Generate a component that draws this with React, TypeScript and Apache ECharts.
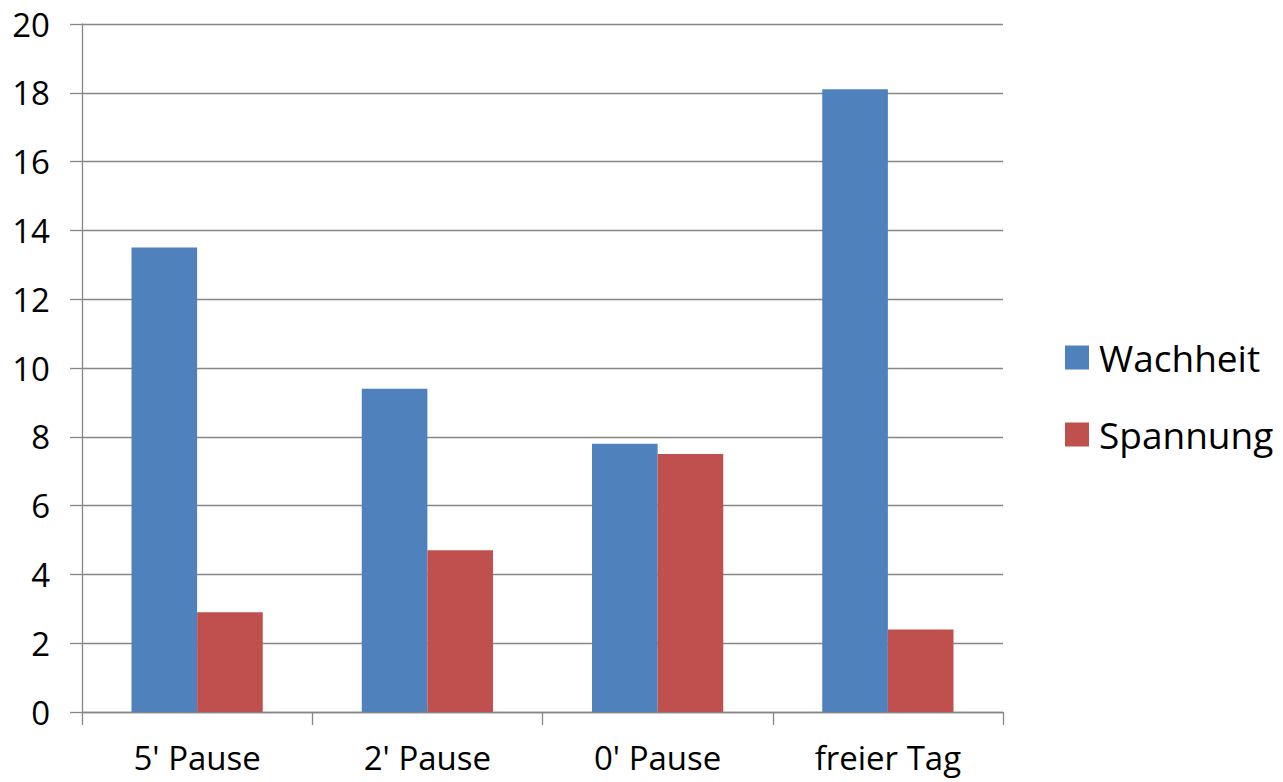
import React, { useEffect, useRef } from "react";
import * as echarts from "echarts";

const categories = ["5' Pause", "2' Pause", "0' Pause", "freier Tag"];
const wachheit = [13.5, 9.4, 7.8, 18.1];
const spannung = [2.9, 4.7, 7.5, 2.4];
const FONT = "'Open Sans', 'Noto Sans', sans-serif";

export default function App() {
  const ref = useRef<HTMLDivElement>(null);

  useEffect(() => {
    document.body.style.margin = "0";
    if (!ref.current) return;
    const chart = echarts.init(ref.current, undefined, { renderer: "svg" });
    chart.setOption({
      animation: false,
      backgroundColor: "#ffffff",
      textStyle: { fontFamily: FONT },
      grid: { left: 82, right: 280, top: 24, bottom: 70, containLabel: false },
      legend: {
        orient: "vertical",
        left: 1060,
        top: 334,
        icon: "rect",
        itemWidth: 24,
        itemHeight: 24,
        itemGap: 40,
        textStyle: { fontSize: 37, color: "#000", fontFamily: FONT, padding: [0, 0, 0, 5] },
        data: ["Wachheit", "Spannung"],
      },
      xAxis: {
        type: "category",
        data: categories,
        axisLine: { lineStyle: { color: "#868686", width: 1.3 } },
        axisTick: { show: true, length: 13, lineStyle: { color: "#868686", width: 1.3 } },
        axisLabel: { fontSize: 33, lineHeight: 36, color: "#000", margin: 27, fontFamily: FONT },
      },
      yAxis: {
        type: "value",
        min: 0,
        max: 20,
        interval: 2,
        axisLine: { show: true, lineStyle: { color: "#868686", width: 1.3 } },
        axisTick: { show: true, length: 12, lineStyle: { color: "#868686", width: 1.3 } },
        splitLine: { lineStyle: { color: "#868686", width: 1.3 } },
        axisLabel: { fontSize: 33, color: "#000", margin: 32, fontFamily: FONT },
      },
      series: [
        {
          name: "Wachheit",
          type: "bar",
          data: wachheit,
          itemStyle: { color: "#4F81BD" },
          barGap: "0%",
          barCategoryGap: "43%",
        },
        {
          name: "Spannung",
          type: "bar",
          data: spannung,
          itemStyle: { color: "#C0504D" },
          barGap: "0%",
          barCategoryGap: "43%",
        },
      ],
    });
    return () => chart.dispose();
  }, []);

  return <div ref={ref} style={{ width: 1283, height: 782 }} />;
}
